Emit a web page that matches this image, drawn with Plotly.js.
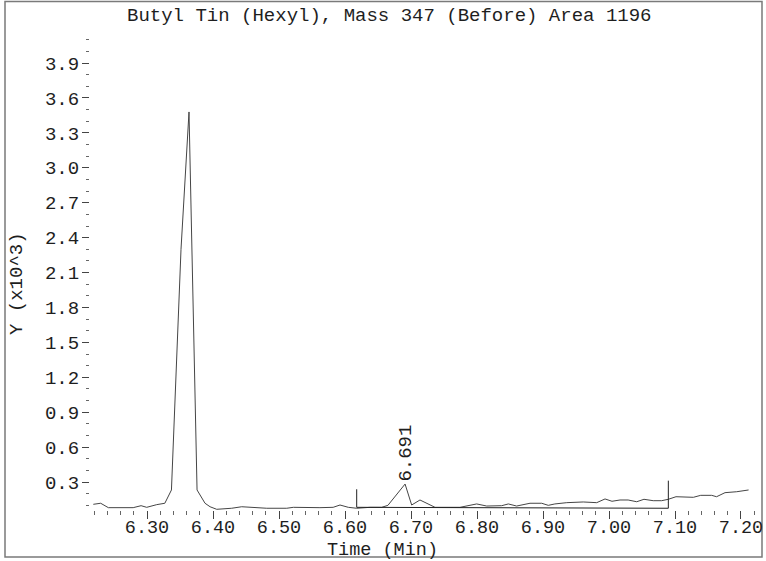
<!DOCTYPE html>
<html>
<head>
<meta charset="utf-8">
<script src="https://cdn.plot.ly/plotly-3.0.1.min.js"></script>
<style>
  html, body { margin: 0; padding: 0; background: #fff; }
  #chart { width: 766px; height: 561px; }
</style>
</head>
<body>
<div id="chart"></div>
<script>
// Chromatogram trace: retention time (min) and response (x10^3 counts)
const timeMin = [
  6.2186, 6.2298, 6.2414, 6.2590, 6.2790, 6.2910, 6.2995, 6.3147, 6.3270, 6.3370,
  6.3515, 6.3636, 6.3758, 6.3879, 6.3955, 6.4056, 6.4283, 6.4435, 6.4610, 6.4814,
  6.5117, 6.5217, 6.5620, 6.5820, 6.5924, 6.6050, 6.6177, 6.6380, 6.6556, 6.6650,
  6.6910, 6.7010, 6.7136, 6.7364, 6.7742, 6.7995, 6.8147, 6.8374, 6.8475, 6.8600,
  6.8803, 6.8980, 6.9080, 6.9180, 6.9360, 6.9610, 6.9814, 6.9940, 7.0045, 7.0167,
  7.0290, 7.0420, 7.0530, 7.0670, 7.0798, 7.0899, 7.1015, 7.1177, 7.1278, 7.1390,
  7.1556, 7.1630, 7.1758, 7.1935, 7.2115
];
const intensity = [
  0.109, 0.118, 0.080, 0.080, 0.080, 0.097, 0.083, 0.106, 0.118, 0.232,
  2.300, 3.480, 0.232, 0.118, 0.088, 0.066, 0.075, 0.088, 0.083, 0.075,
  0.075, 0.083, 0.080, 0.083, 0.103, 0.083, 0.075, 0.083, 0.083, 0.100,
  0.283, 0.103, 0.146, 0.083, 0.083, 0.112, 0.094, 0.097, 0.112, 0.094,
  0.118, 0.118, 0.100, 0.112, 0.123, 0.129, 0.123, 0.155, 0.135, 0.146,
  0.146, 0.131, 0.152, 0.140, 0.140, 0.152, 0.174, 0.174, 0.169, 0.186,
  0.186, 0.174, 0.209, 0.217, 0.232
];

// Integration window of the labelled peak
const peakApexTime = 6.691;
const windowTimes = [6.6177, 7.0899];
const windowBaseline = [0.083, 0.075];
const windowMarkerTops = [0.238, 0.312];

// Axis ticks
const xTickStep = 0.1, xMinorStep = 0.02;
const yTickStep = 0.3, yMinorStep = 0.1;

// Plot geometry (pixels)
const W = 766, H = 561;
const M = { l: 90, r: 6, t: 37, b: 51 };
const PW = W - M.l - M.r, PH = H - M.t - M.b;
const px2paperX = px => (px - M.l) / PW;
const py2paperY = py => (H - M.b - py) / PH;

const FONT = "Liberation Mono, DejaVu Sans Mono, monospace";
const FS = 19;
const TXT = "#1e1e1e";

const apexIdx = timeMin.indexOf(peakApexTime);

const traces = [
  {
    x: timeMin, y: intensity, type: "scatter", mode: "lines",
    line: { color: "#454545", width: 1 }, hoverinfo: "skip"
  },
  {
    x: windowTimes, y: windowBaseline, type: "scatter", mode: "lines",
    line: { color: "#222", width: 1 }, hoverinfo: "skip"
  },
  {
    x: [windowTimes[0], windowTimes[0], null, windowTimes[1], windowTimes[1]],
    y: [windowBaseline[0], windowMarkerTops[0], null, windowBaseline[1], windowMarkerTops[1]],
    type: "scatter", mode: "lines", connectgaps: false,
    line: { color: "#222", width: 1 }, hoverinfo: "skip"
  }
];

const layout = {
  width: W, height: H,
  margin: M,
  paper_bgcolor: "#fff", plot_bgcolor: "#fff",
  showlegend: false,
  hovermode: false,
  font: { family: FONT, size: FS, color: TXT },
  xaxis: {
    range: [6.2136, 7.2288],
    tick0: 6.3, dtick: xTickStep, tickformat: ".2f",
    showgrid: false, zeroline: false, showline: false,
    ticks: "outside", ticklen: 8, tickwidth: 1, tickcolor: "#444",
    ticklabelstandoff: -8,
    tickfont: { family: FONT, size: 18.5, color: TXT },
    minor: { dtick: xMinorStep, ticks: "outside", ticklen: 4, tickwidth: 1, tickcolor: "#666", showgrid: false }
  },
  yaxis: {
    range: [0.060, 4.124],
    tick0: 0, dtick: yTickStep, tickformat: ".1f",
    showgrid: false, zeroline: false, showline: false,
    ticks: "outside", ticklen: 7, tickwidth: 1, tickcolor: "#444",
    ticklabelstandoff: -1,
    tickfont: { family: FONT, size: FS, color: TXT },
    minor: { dtick: yMinorStep, ticks: "outside", ticklen: 3, tickwidth: 1, tickcolor: "#666", showgrid: false }
  },
  shapes: [
    {
      type: "rect", xref: "paper", yref: "paper",
      x0: px2paperX(5), x1: px2paperX(762), y0: py2paperY(557), y1: py2paperY(1.5),
      line: { color: "#7a7a7a", width: 1.5 }, fillcolor: "rgba(0,0,0,0)", layer: "below"
    }
  ],
  annotations: [
    {
      text: "Butyl Tin (Hexyl), Mass 347 (Before) Area 1196",
      xref: "paper", yref: "paper", x: px2paperX(389.5), y: py2paperY(16),
      xanchor: "center", yanchor: "middle", showarrow: false,
      font: { family: FONT, size: FS, color: TXT }
    },
    {
      text: "Time (Min)",
      xref: "paper", yref: "paper", x: px2paperX(382), y: py2paperY(550),
      xanchor: "center", yanchor: "middle", showarrow: false,
      font: { family: FONT, size: 18.5, color: TXT }
    },
    {
      text: "Y (x10^3)",
      xref: "paper", yref: "paper", x: px2paperX(17), y: py2paperY(284),
      xanchor: "center", yanchor: "middle", textangle: -90, showarrow: false,
      font: { family: FONT, size: FS, color: TXT }
    },
    {
      text: peakApexTime.toFixed(3),
      xref: "x", yref: "y", x: timeMin[apexIdx], y: intensity[apexIdx],
      xanchor: "center", yanchor: "bottom", textangle: -90, showarrow: false,
      font: { family: FONT, size: FS, color: TXT }
    }
  ]
};

Plotly.newPlot("chart", traces, layout, { staticPlot: true, displayModeBar: false });
</script>
</body>
</html>
